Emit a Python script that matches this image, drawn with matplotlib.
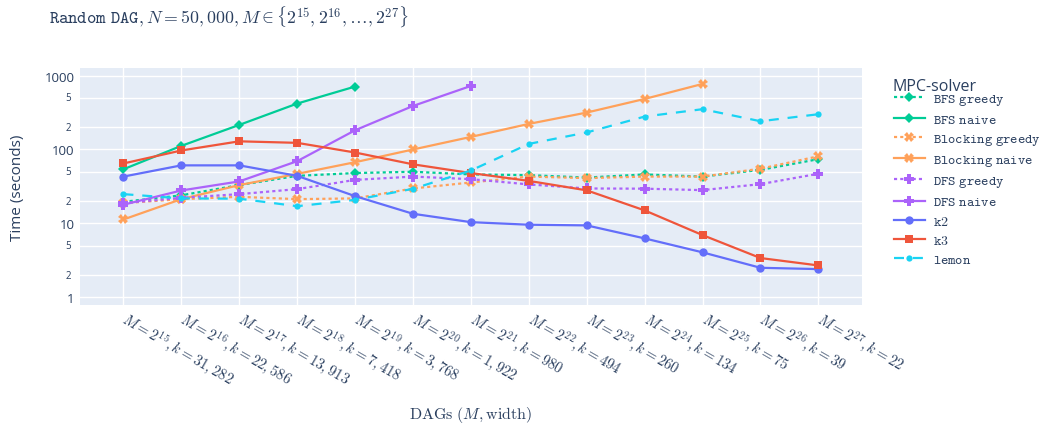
import matplotlib.pyplot as plt
from matplotlib.ticker import FixedLocator, NullFormatter

plt.rcParams["mathtext.fontset"] = "cm"

# one DAG per tick: number of edges M and the width k
exponents = [15, 16, 17, 18, 19, 20, 21, 22, 23, 24, 25, 26, 27]
widths = ["31,282", "22,586", "13,913", "7,418", "3,768", "1,922", "980",
          "494", "260", "134", "75", "39", "22"]

# running times in seconds (solvers that time out stop early)
bfs_greedy = [19.6, 24, 33, 44, 48, 50, 46, 45, 41.7, 46, 43, 53, 74]
bfs_naive = [54, 112, 215, 418, 710]
blocking_greedy = [18.8, 21.3, 22.9, 21.3, 21.8, 29.7, 35.8, 43, 41, 43, 43, 55, 81]
blocking_naive = [11.3, 21.3, 33, 46.8, 67.3, 100, 148, 222, 316, 483, 771]
dfs_greedy = [18.8, 22.2, 24.9, 29.1, 38.8, 43, 39.7, 33.7, 29.7, 29.5, 28.2, 34, 47]
dfs_naive = [17.9, 27.9, 37, 69.5, 182, 388, 724]
k2 = [43, 61, 61, 44, 23.4, 13.5, 10.4, 9.6, 9.4, 6.27, 4.06, 2.51, 2.41]
k3 = [64.7, 97, 129, 123, 91, 63, 48, 37.6, 28, 15, 6.95, 3.4, 2.7]
lemon = [24.9, 21.8, 21.6, 17.1, 20.8, 29.4, 52, 119, 170, 279, 351, 241, 300]

text_color = "#2a3f5f"
dot = (0, (1.4, 1.4))
dash = (0, (4.5, 4))

fig = plt.figure(figsize=(10.58, 4.27), dpi=100)
ax = fig.add_axes([0.0756, 0.284, 0.739, 0.554])
ax.set_facecolor("#E5ECF6")
for s in ax.spines.values():
    s.set_visible(False)

series = [
    ("BFS greedy", bfs_greedy, "#00cc96", dot, "D", 5),
    ("BFS naive", bfs_naive, "#00cc96", "-", "D", 5),
    ("Blocking greedy", blocking_greedy, "#FFA15A", dot, "X", 7),
    ("Blocking naive", blocking_naive, "#FFA15A", "-", "X", 7),
    ("DFS greedy", dfs_greedy, "#ab63fa", dot, "P", 7),
    ("DFS naive", dfs_naive, "#ab63fa", "-", "P", 7),
    ("k2", k2, "#636efa", "-", "o", 6),
    ("k3", k3, "#EF553B", "-", "s", 6),
    ("lemon", lemon, "#19d3f3", dash, "o", 4.5),
]
for name, vals, color, ls, marker, ms in series:
    ax.plot(range(len(vals)), vals, color=color, linestyle=ls, linewidth=1.6,
            marker=marker, markersize=ms, markeredgewidth=0,
            label=r"$\mathtt{" + name.replace(" ", r"\ ") + "}$")

ax.set_yscale("log")
ax.set_ylim(10 ** -0.1, 10 ** 3.1)
ax.set_xlim(-0.75, 12.75)

major = [1, 10, 100, 1000]
minor = [2, 5, 20, 50, 200, 500]
ax.yaxis.set_major_locator(FixedLocator(major))
ax.yaxis.set_minor_locator(FixedLocator(minor))
ax.set_yticklabels(["1", "10", "100", "1000"])
ax.yaxis.set_minor_formatter(NullFormatter())
for v in minor:
    ax.text(-0.012, v, str(v)[0], transform=ax.get_yaxis_transform(),
            ha="right", va="center", fontsize=7, color=text_color,
            family="Open Sans")
ax.tick_params(axis="y", which="both", length=0, pad=4, labelsize=9.5,
               labelcolor=text_color)
for lbl in ax.get_yticklabels():
    lbl.set_family("Open Sans")
ax.grid(True, which="both", color="white", linewidth=1)
ax.set_axisbelow(True)

ax.set_xticks(range(len(exponents)))
ax.set_xticklabels([r"$M = 2^{%d}, k = %s$" % (e, w) for e, w in zip(exponents, widths)],
                   rotation=-30, ha="left", va="center", rotation_mode="anchor",
                   fontsize=10.6, color=text_color)
ax.tick_params(axis="x", length=0, pad=9)

ax.set_xlabel(r"$\mathrm{DAGs}\ (M, \mathrm{width})$", fontsize=11.5,
              color=text_color, labelpad=0)
ax.xaxis.set_label_coords(0.5, -0.42)
ax.set_ylabel("Time (seconds)", fontsize=11, color=text_color,
              family="Open Sans", labelpad=14)

fig.text(0.046, 0.962,
         r"$\mathtt{Random\ DAG}, N = 50,000, M \in \{2^{15}, 2^{16}, \ldots, 2^{27}\}$",
         fontsize=12.8, color=text_color, va="center")

# legend title drawn separately so it sits tight above the entries
fig.text(893 / 1058, 1 - 87 / 427, "MPC-solver", fontsize=11.5, color=text_color,
         family="Open Sans", va="center", ha="left")
leg = ax.legend(loc="upper left", bbox_to_anchor=(1.034, 0.928), frameon=False,
                fontsize=10, handlelength=2.2, labelspacing=0.37,
                handletextpad=0.6, borderaxespad=0)
for t in leg.get_texts():
    t.set_color(text_color)

fig.savefig("out.png", dpi=100)
